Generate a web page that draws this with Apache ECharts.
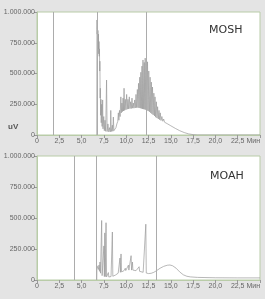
<!DOCTYPE html>
<html>
<head>
	<meta charset="UTF-8">
	<title></title>
	<style>
		html, body { margin: 0; padding: 0; background: #e4e4e4; }
		#chart { width: 265px; height: 299px; }
	</style>
	<script src="https://cdn.jsdelivr.net/npm/echarts@6/dist/echarts.min.js"></script>
</head>
<body>
	<div id="chart"></div>
	<script>
		// time in minutes, signal in thousands of uV
		var moshData = [
			[6.70, 0], [6.72, 935], [6.75, 820], [6.78, 880], [6.80, 760], [6.83, 850], [6.86, 700], [6.89, 820],
			[6.92, 660], [6.95, 760], [6.98, 640], [7.00, 700], [7.03, 520], [7.05, 600], [7.08, 300], [7.10, 380],
			[7.13, 160], [7.17, 290], [7.20, 100], [7.25, 250], [7.30, 70], [7.36, 285], [7.40, 50], [7.48, 150],
			[7.55, 35], [7.62, 120], [7.70, 30], [7.80, 447], [7.86, 28], [7.95, 90], [8.05, 25], [8.15, 60],
			[8.22, 26], [8.27, 200], [8.33, 28], [8.45, 80], [8.50, 30], [8.56, 146], [8.62, 35], [8.75, 50],
			[8.85, 60], [8.95, 90], [9.05, 110], [9.12, 180], [9.18, 120], [9.25, 200], [9.32, 150], [9.40, 310],
			[9.45, 180], [9.52, 260], [9.58, 190], [9.65, 300], [9.70, 195], [9.76, 380], [9.82, 200], [9.90, 290],
			[9.97, 205], [10.05, 330], [10.12, 210], [10.20, 290], [10.27, 212], [10.35, 310], [10.42, 215], [10.50, 270],
			[10.57, 215], [10.65, 300], [10.72, 218], [10.80, 260], [10.87, 218], [10.95, 285], [11.02, 220], [11.10, 330],
			[11.17, 222], [11.25, 370], [11.32, 222], [11.38, 420], [11.45, 220], [11.52, 470], [11.58, 218], [11.64, 510],
			[11.70, 215], [11.77, 560], [11.83, 212], [11.88, 610], [11.95, 210], [12.02, 590], [12.08, 208], [12.13, 625],
			[12.20, 205], [12.27, 580], [12.33, 200], [12.39, 595], [12.46, 195], [12.53, 520], [12.60, 188], [12.68, 470],
			[12.75, 180], [12.82, 430], [12.88, 172], [12.95, 390], [13.02, 163], [13.10, 340], [13.17, 155], [13.23, 310],
			[13.30, 145], [13.38, 270], [13.45, 138], [13.52, 230], [13.60, 130], [13.68, 200], [13.75, 124], [13.82, 180],
			[13.90, 118], [14.00, 150], [14.10, 112], [14.20, 130], [14.30, 104], [14.45, 110], [14.60, 92], [15.00, 75],
			[15.50, 54], [16.00, 35], [16.50, 20], [17.00, 9], [17.50, 3], [18.00, 0], [25.00, 0]
		];
		var moahData = [
			[6.70, 0], [6.72, 115], [6.80, 100], [6.88, 85], [6.95, 120], [7.00, 70], [7.06, 145], [7.12, 55],
			[7.18, 40], [7.25, 480], [7.30, 35], [7.40, 30], [7.50, 275], [7.55, 28], [7.60, 380], [7.65, 27],
			[7.74, 462], [7.80, 25], [7.90, 24], [8.00, 60], [8.05, 24], [8.20, 25], [8.30, 28], [8.45, 387],
			[8.50, 30], [8.65, 34], [8.80, 40], [8.95, 48], [9.10, 55], [9.20, 60], [9.30, 177], [9.35, 62],
			[9.42, 210], [9.48, 65], [9.60, 70], [9.75, 75], [9.90, 95], [9.95, 76], [10.10, 80], [10.25, 120],
			[10.30, 80], [10.45, 82], [10.55, 196], [10.60, 80], [10.70, 145], [10.75, 80], [10.90, 78], [11.10, 75],
			[11.30, 72], [11.45, 107], [11.50, 70], [11.70, 66], [11.90, 62], [12.10, 58], [12.20, 450], [12.25, 56],
			[12.50, 52], [12.80, 54], [13.10, 62], [13.40, 75], [13.80, 95], [14.20, 110], [14.60, 119], [14.90, 121],
			[15.20, 115], [15.60, 95], [16.00, 65], [16.40, 42], [16.80, 30], [17.20, 25], [18.00, 21], [20.00, 18],
			[22.50, 17], [25.00, 17]
		];
		var moshMarkers = [1.8, 6.7, 12.2];
		var moahMarkers = [4.18, 6.65, 13.4];
		var panelNames = ['MOSH', 'MOAH'];
		var yUnit = 'uV';
		var xUnit = 'Мин';

		var labelFont = 'Liberation Sans';
		var traceColor = '#9a9a9a';
		var frameColor = '#b9cca8';

		function fmtX(v) {
			if (v === 25) return xUnit;
			if (v === 0) return '0';
			return v.toFixed(1).replace('.', ',');
		}
		function fmtY(v) {
			var s = String(Math.round(v * 1000));
			return s.replace(/\B(?=(\d{3})+(?!\d))/g, '.');
		}

		function xAxis(idx) {
			return {
				type: 'value', gridIndex: idx, min: 0, max: 25, interval: 2.5,
				axisLine: { lineStyle: { color: frameColor } },
				axisTick: { length: 3, lineStyle: { color: '#999' } },
				axisLabel: { formatter: fmtX, fontSize: 7, color: '#666', margin: 3, fontFamily: labelFont, alignMaxLabel: 'right' },
				splitLine: { show: false }
			};
		}
		function yAxis(idx) {
			return {
				type: 'value', gridIndex: idx, min: 0, max: 1000, interval: 250,
				axisLine: { show: true, lineStyle: { color: frameColor } },
				axisTick: { show: true, length: 3, lineStyle: { color: '#999' } },
				axisLabel: { formatter: fmtY, fontSize: 7, color: '#666', margin: 2, fontFamily: labelFont },
				splitLine: { show: false }
			};
		}
		function trace(idx, data, markers) {
			return {
				type: 'line', xAxisIndex: idx, yAxisIndex: idx, data: data,
				showSymbol: false, silent: true,
				lineStyle: { color: traceColor, width: 0.7 },
				markLine: {
					silent: true, symbol: 'none', label: { show: false },
					lineStyle: { color: '#acacac', width: 1, type: 'solid' },
					data: markers.map(function (m) { return { xAxis: m }; })
				}
			};
		}

		var myChart = echarts.init(document.getElementById('chart'));
		myChart.setOption({
			animation: false,
			backgroundColor: '#e4e4e4',
			grid: [
				{ left: 37, top: 12, width: 223, height: 123, show: true, backgroundColor: '#fff', borderColor: frameColor, borderWidth: 1 },
				{ left: 37, top: 156, width: 223, height: 124, show: true, backgroundColor: '#fff', borderColor: frameColor, borderWidth: 1 }
			],
			xAxis: [xAxis(0), xAxis(1)],
			yAxis: [yAxis(0), yAxis(1)],
			graphic: [
				{ type: 'text', left: 209, top: 25, style: { text: panelNames[0], fontSize: 11, fill: '#333', fontFamily: 'DejaVu Sans' } },
				{ type: 'text', left: 210, top: 171, style: { text: panelNames[1], fontSize: 11, fill: '#333', fontFamily: 'DejaVu Sans' } },
				{ type: 'text', left: 8, top: 123, style: { text: yUnit, fontSize: 8, fontWeight: 'bold', fill: '#555', fontFamily: labelFont } }
			],
			series: [trace(0, moshData, moshMarkers), trace(1, moahData, moahMarkers)]
		});
	</script>
</body>
</html>
